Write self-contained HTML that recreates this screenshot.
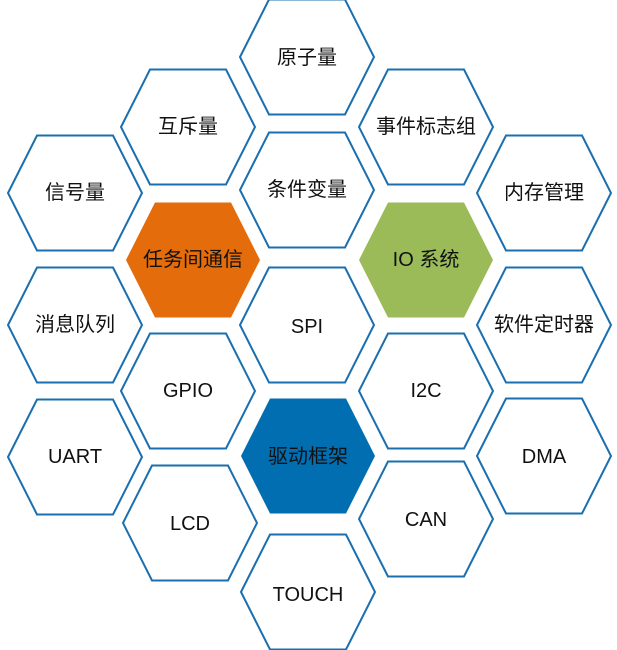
<!DOCTYPE html>
<html><head><meta charset="utf-8"><style>html,body{margin:0;padding:0;background:#fff}svg{display:block}text{font-family:"Liberation Sans","Noto Sans CJK SC",sans-serif;font-size:20px;fill:#111;text-anchor:middle;dominant-baseline:central}</style></head><body>
<svg width="617" height="650" viewBox="0 0 617 650" xmlns="http://www.w3.org/2000/svg">
<defs><polygon id="h" points="-67,0 -38,-57.5 38,-57.5 67,0 38,57.5 -38,57.5"/></defs>
<g fill="#fff" stroke="#1b6faf" stroke-width="2">
<use href="#h" x="307" y="57"/>
<use href="#h" x="188" y="127"/>
<use href="#h" x="426" y="127"/>
<use href="#h" x="75" y="193"/>
<use href="#h" x="307" y="190"/>
<use href="#h" x="544" y="193"/>
<use href="#h" x="75" y="325"/>
<use href="#h" x="307" y="325"/>
<use href="#h" x="544" y="325"/>
<use href="#h" x="188" y="391"/>
<use href="#h" x="426" y="391"/>
<use href="#h" x="75" y="457"/>
<use href="#h" x="544" y="456"/>
<use href="#h" x="190" y="523"/>
<use href="#h" x="426" y="519"/>
<use href="#h" x="308" y="592"/>
</g>
<use href="#h" x="193" y="260" fill="#e46c0a"/>
<use href="#h" x="426" y="260" fill="#9bbb59"/>
<use href="#h" x="308" y="456" fill="#006eb0"/>
<text x="307" y="58">原子量</text>
<text x="188" y="127">互斥量</text>
<text x="426" y="127">事件标志组</text>
<text x="75" y="193">信号量</text>
<text x="307" y="190">条件变量</text>
<text x="544" y="193">内存管理</text>
<text x="193" y="260">任务间通信</text>
<text x="426" y="260">IO 系统</text>
<text x="75" y="325">消息队列</text>
<text x="307" y="327">SPI</text>
<text x="544" y="325">软件定时器</text>
<text x="188" y="391">GPIO</text>
<text x="426" y="391">I2C</text>
<text x="75" y="457">UART</text>
<text x="308" y="457">驱动框架</text>
<text x="544" y="457">DMA</text>
<text x="190" y="524">LCD</text>
<text x="426" y="520">CAN</text>
<text x="308" y="595">TOUCH</text>
</svg>
</body></html>
